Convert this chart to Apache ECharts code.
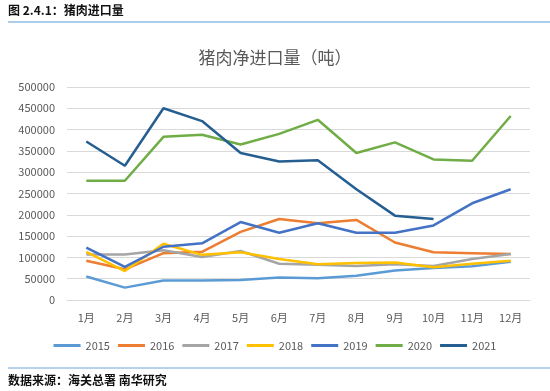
<!DOCTYPE html>
<html><head><meta charset="utf-8">
<script src="https://cdn.jsdelivr.net/npm/echarts@6/dist/echarts.min.js"></script>
<style>html,body{margin:0;padding:0;background:#fff}#c{width:550px;height:391px}</style>
</head><body><div id="c"></div>
<script>
const months = ['1月','2月','3月','4月','5月','6月','7月','8月','9月','10月','11月','12月'];
const y2015 = [55000,29000,46000,46000,47000,53000,51000,57000,69000,75000,79000,90000];
const y2016 = [92000,72000,110000,113000,160000,190000,180000,188000,135000,112000,110000,108000];
const y2017 = [107000,107000,117000,101000,115000,85000,83000,80000,84000,80000,96000,108000];
const y2018 = [113000,68000,132000,106000,112000,96000,84000,87000,88000,77000,85000,92000];
const y2019 = [123000,78000,125000,133000,183000,158000,180000,158000,158000,175000,227000,260000];
const y2020 = [280000,280000,383000,388000,365000,390000,423000,345000,370000,330000,327000,432000];
const y2021 = [372000,315000,450000,420000,345000,325000,328000,260000,198000,190000];
const names = ['2015','2016','2017','2018','2019','2020','2021'];
const colors = ['#5B9BD5','#ED7D31','#A5A5A5','#FFC000','#4472C4','#70AD47','#255E91'];
const values = [y2015,y2016,y2017,y2018,y2019,y2020,y2021];

const chart = echarts.init(document.getElementById('c'));
const font = 'Noto Sans CJK SC';
chart.setOption({
  animation:false,
  color: colors,
  title:{text:'猪肉净进口量（吨）',left:'center',top:44,textStyle:{fontFamily:font,fontSize:17,fontWeight:'normal',color:'#595959'}},
  grid:{left:67,right:20,top:87,bottom:91},
  legend:{bottom:35,left:'center',itemWidth:27,itemHeight:3,itemGap:8,icon:'rect',
    textStyle:{fontFamily:font,fontSize:11,color:'#595959'},data:names},
  xAxis:{type:'category',data:months,boundaryGap:true,
    axisLine:{show:true,lineStyle:{color:'#D9D9D9'}},axisTick:{show:false},
    axisLabel:{fontFamily:font,fontSize:11,color:'#595959',margin:12}},
  yAxis:{type:'value',min:0,max:500000,interval:50000,
    axisLine:{show:false},axisTick:{show:false},
    splitLine:{lineStyle:{color:'#D9D9D9',width:1}},
    axisLabel:{fontFamily:font,fontSize:11,color:'#595959',margin:12,formatter:v=>String(v)}},
  series: names.map((n,i)=>({name:n,type:'line',data:values[i],symbol:'none',
    lineStyle:{width:2.5,color:colors[i]},itemStyle:{color:colors[i]}})),
  graphic:[
    {type:'text',left:8,top:4,style:{text:'图 2.4.1：猪肉进口量',fontFamily:font,fontSize:12,fontWeight:'bold',fill:'#111'}},
    {type:'line',shape:{x1:8,y1:22,x2:550,y2:22},style:{stroke:'#5B9BD5',lineWidth:1}},
    {type:'line',shape:{x1:8,y1:368,x2:550,y2:368},style:{stroke:'#9DC3E6',lineWidth:1.5}},
    {type:'text',left:8,top:374,style:{text:'数据来源：海关总署 南华研究',fontFamily:font,fontSize:12,fontWeight:'bold',fill:'#111'}}
  ]
});
</script></body></html>
